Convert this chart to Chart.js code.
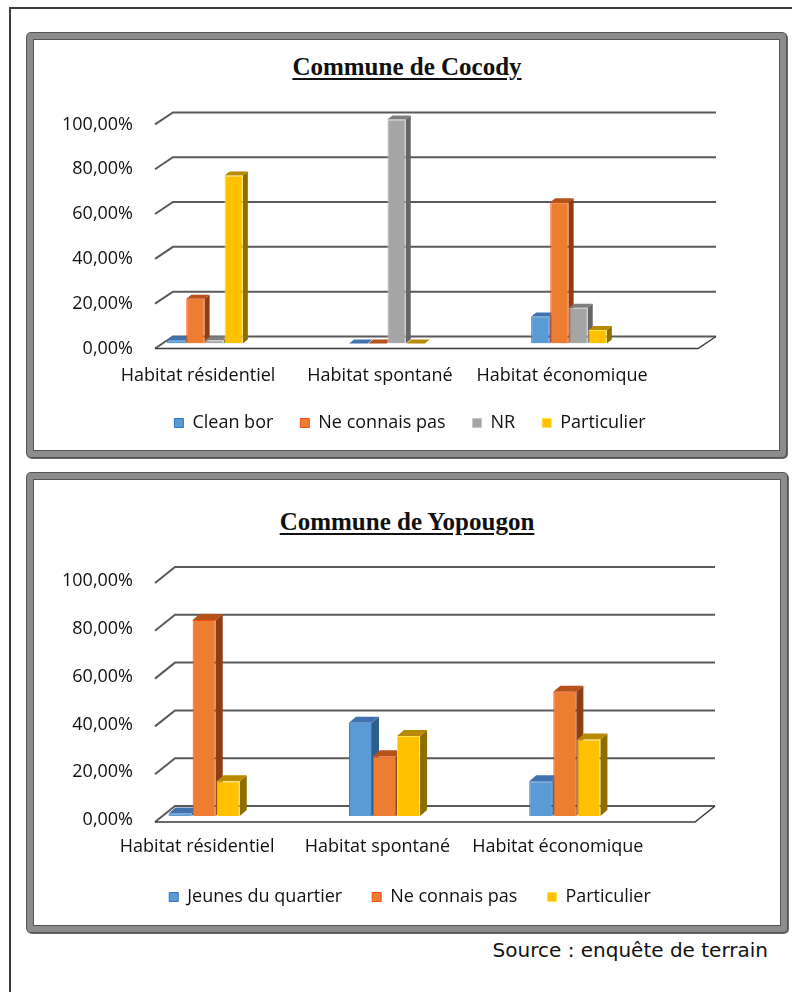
<!DOCTYPE html>
<html>
<head>
<meta charset="utf-8">
<script src="https://cdn.jsdelivr.net/npm/chart.js@4.4.0/dist/chart.umd.min.js"></script>
<style>
  body { margin:0; background:#fff; width:792px; height:992px; position:relative; overflow:hidden; }
  .page { position:absolute; left:9px; top:7px; width:820px; height:1020px; border-left:2px solid #3c3c3c; border-top:2px solid #3c3c3c; }
  .box { position:absolute; left:27px; box-sizing:border-box; border:6px solid #8c8c8c; border-radius:4px;
         box-shadow: inset 0 0 0 1px #555, 0 0 0 1px #555, 1px 1px 0 1px #6a6a6a; background:#fff; }
  .title { position:absolute; left:27px; width:760px; text-align:center; font:bold 25px "Liberation Serif", serif;
           text-decoration:underline; text-underline-offset:3px; line-height:28px; color:#111; }
  .wrap { position:absolute; left:40px; width:740px; }
  .source { position:absolute; right:24px; top:938px; font:20px "Comic Sans MS", "DejaVu Sans", sans-serif; color:#111; }
</style>
</head>
<body>
<div class="page"></div>
<div class="box" style="top:33px; width:759px; height:424px;"></div>
<div class="box" style="top:473px; width:760px; height:459px;"></div>
<div class="title" style="top:53px;">Commune de Cocody</div>
<div class="title" style="top:508px;">Commune de Yopougon</div>
<div class="wrap" style="top:95px; height:347px;"><canvas id="cocody"></canvas></div>
<div class="wrap" style="top:545px; height:371px;"><canvas id="yopougon"></canvas></div>
<div class="source">Source : enquête de terrain</div>

<script>
// categories and values (percent)
const categories = ['Habitat résidentiel', 'Habitat spontané', 'Habitat économique'];
const yTicks = [0, 20, 40, 60, 80, 100];

const cocodyCleanBor     = [1.5, 0, 12];
const cocodyNeConnais    = [20, 0, 63];
const cocodyNR           = [1.5, 100, 16];
const cocodyParticulier  = [75, 0, 6];

const yopJeunes          = [1, 39, 14.5];
const yopNeConnais       = [82, 25, 52];
const yopParticulier     = [14.5, 33.5, 32];

const colors = {
  blue:   { bg: '#5B9BD5', border: '#2E75C6', side: '#2F5D8E', top: '#3F72AE' },
  orange: { bg: '#ED7D31', border: '#FF4A12', side: '#8E3E12', top: '#B4521A' },
  gray:   { bg: '#A5A5A5', border: '#C8C8C8', side: '#656565', top: '#7E7E7E' },
  yellow: { bg: '#FFC000', border: '#FFE14A', side: '#8F6E00', top: '#B88A00' }
};

Chart.defaults.font.family = '"Open Sans", sans-serif';
Chart.defaults.font.size = 18;
Chart.defaults.color = '#111';

function series(label, data, c) {
  return { label: label, data: data, backgroundColor: c.bg, borderColor: c.border, borderWidth: 1,
           sideColor: c.side, topColor: c.top };
}

// fake 3D : back wall grid, floor, and the side / top faces of every bar
const depth3d = {
  id: 'depth3d',
  beforeDatasetsDraw(chart, args, o) {
    const {ctx, chartArea} = chart;
    const y = chart.scales.y;
    const fl = chartArea.left + o.left, fr = chartArea.right + o.right;
    ctx.save();
    ctx.strokeStyle = '#5a5a5a';
    ctx.lineWidth = 2;
    y.ticks.forEach(t => {
      const py = y.getPixelForValue(t.value);
      ctx.beginPath();
      ctx.moveTo(fl, py + o.front);
      ctx.lineTo(fl + o.dx, py + o.back);
      ctx.lineTo(fr + o.dx, py + o.back);
      ctx.stroke();
    });
    const p0 = y.getPixelForValue(0);
    ctx.lineWidth = 1.5;
    ctx.strokeStyle = '#3a3a3a';
    ctx.beginPath();
    ctx.moveTo(fl, p0 + o.front);
    ctx.lineTo(fr, p0 + o.front);
    ctx.lineTo(fr + o.dx, p0 + o.back);
    ctx.stroke();

    chart.data.datasets.forEach((ds, i) => {
      chart.getDatasetMeta(i).data.forEach(bar => {
        const p = bar.getProps(['x', 'y', 'base', 'width'], true);
        const l = p.x - p.width / 2, r = p.x + p.width / 2;
        ctx.fillStyle = ds.sideColor;
        ctx.beginPath();
        ctx.moveTo(r, p.y); ctx.lineTo(r + o.bx, p.y + o.by);
        ctx.lineTo(r + o.bx, p.base + o.by); ctx.lineTo(r, p.base);
        ctx.closePath(); ctx.fill();
        ctx.fillStyle = ds.topColor;
        ctx.beginPath();
        ctx.moveTo(l, p.y); ctx.lineTo(l + o.bx, p.y + o.by);
        ctx.lineTo(r + o.bx, p.y + o.by); ctx.lineTo(r, p.y);
        ctx.closePath(); ctx.fill();
      });
    });
    ctx.restore();
  }
};

function makeChart(id, datasets, cfg) {
  return new Chart(document.getElementById(id), {
    type: 'bar',
    data: { labels: categories, datasets: datasets },
    plugins: [depth3d],
    options: {
      responsive: true,
      maintainAspectRatio: false,
      animation: false,
      datasets: { bar: { categoryPercentage: cfg.catPct, barPercentage: 0.96 } },
      layout: { padding: { top: cfg.padTop, left: 0, right: 0, bottom: 0 } },
      scales: {
        x: {
          grid: { display: false, drawTicks: false }, border: { display: false },
          afterFit: s => { s.height = cfg.xH; },
          ticks: { padding: cfg.xPad, labelOffset: -7, maxRotation: 0, autoSkip: false }
        },
        y: {
          min: 0, max: 100,
          afterBuildTicks: s => { s.ticks = yTicks.map(v => ({ value: v })); },
          afterFit: s => { s.width = 74; },
          grid: { display: false, drawTicks: false }, border: { display: false },
          ticks: { mirror: true, crossAlign: 'far', padding: -52, labelOffset: cfg.yOff,
                   callback: v => v.toFixed(2).replace('.', ',') + '%' }
        },
        yR: {
          type: 'linear', position: 'right', display: true,
          afterFit: s => { s.width = cfg.rightW; },
          grid: { display: false, drawTicks: false }, border: { display: false }, ticks: { display: false }
        }
      },
      plugins: {
        legend: {
          position: 'bottom',
          labels: { boxWidth: 9, boxHeight: 9, padding: cfg.legPad, color: '#111' }
        },
        tooltip: { enabled: false },
        depth3d: cfg.depth
      }
    }
  });
}

makeChart('cocody', [
  series('Clean bor', cocodyCleanBor, colors.blue),
  series('Ne connais pas', cocodyNeConnais, colors.orange),
  series('NR', cocodyNR, colors.gray),
  series('Particulier', cocodyParticulier, colors.yellow)
], { catPct: 0.42, padTop: 24.4, xPad: 21.7, xH: 43.5, yOff: 5, rightW: 120, legPad: 27,
     depth: { left: 41, right: 38, dx: 18, front: 5, back: -7, bx: 5, by: -4 } });

makeChart('yopougon', [
  series('Jeunes du quartier', yopJeunes, colors.blue),
  series('Ne connais pas', yopNeConnais, colors.orange),
  series('Particulier', yopParticulier, colors.yellow)
], { catPct: 0.40, padTop: 32, xPad: 20.2, xH: 42, yOff: 4, rightW: 125, legPad: 30,
     depth: { left: 41, right: 40, dx: 20, front: 6, back: -10, bx: 7, by: -6 } });
</script>
</body>
</html>
